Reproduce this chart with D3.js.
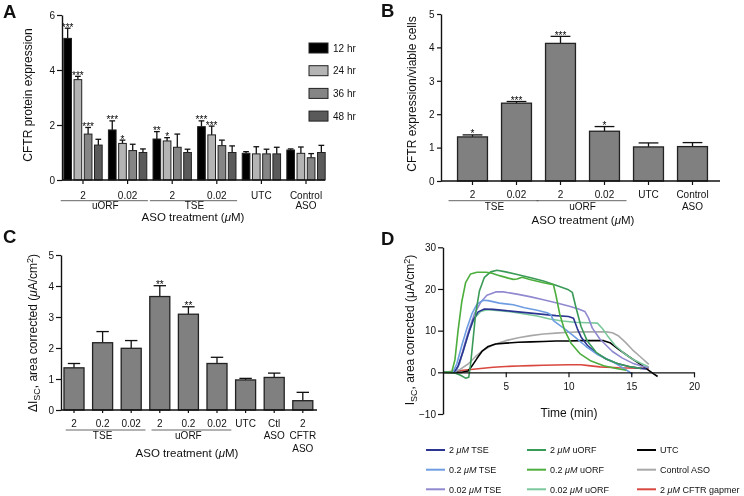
<!DOCTYPE html>
<html><head><meta charset="utf-8">
<script src="https://cdn.jsdelivr.net/npm/d3@7"></script>
<style>
body{margin:0;background:#fff}
svg{font-family:"Liberation Sans",Arial,Helvetica,sans-serif;will-change:transform}
</style></head><body>
<svg id="fig" width="744" height="496"></svg>
<script>
// ---------------- Panel A data ----------------
const categoriesA = ["uORF 2","uORF 0.02","TSE 2","TSE 0.02","UTC","Control ASO"];
const tickLabelsA = ["2","0.02","2","0.02","UTC","Control"];
const subLabelsA = ["","","","","","ASO"];
const bracketsA = [{name:"uORF", from:0, to:1},{name:"TSE", from:2, to:3}];
const timepointsA = ["12 hr","24 hr","36 hr","48 hr"];
const colorsA = ["#000000","#b4b4b4","#858585","#5a5a5a"];
const valuesA = [[5.15,3.65,1.67,1.27],[1.82,1.33,1.07,1.0],[1.49,1.42,1.19,1.0],[1.94,1.64,1.25,1.0],[0.97,0.95,0.95,0.95],[1.09,0.97,0.81,1.0]];
const errorsA = [[0.37,0.12,0.24,0.21],[0.33,0.12,0.23,0.13],[0.27,0.12,0.48,0.12],[0.21,0.32,0.2,0.24],[0.06,0.26,0.17,0.24],[0.04,0.23,0.15,0.26]];
const starsA = [["***","***","***",""],["***","*","",""],["**","*","",""],["***","***","",""],["","","",""],["","","",""]];
const yTicksA = [0,2,4,6];

// ---------------- Panel B data ----------------
const categoriesB = ["TSE 2","TSE 0.02","uORF 2","uORF 0.02","UTC","Control ASO"];
const tickLabelsB = ["2","0.02","2","0.02","UTC","Control"];
const subLabelsB = ["","","","","","ASO"];
const bracketsB = [{name:"TSE", from:0, to:1},{name:"uORF", from:2, to:3}];
const valuesB = [1.32,2.33,4.12,1.49,1.02,1.03];
const errorsB = [0.06,0.05,0.21,0.14,0.12,0.12];
const starsB = ["*","***","***","*","",""];
const yTicksB = [0,1,2,3,4,5];

// ---------------- Panel C data ----------------
const categoriesC = ["TSE 2","TSE 0.2","TSE 0.02","uORF 2","uORF 0.2","uORF 0.02","UTC","Ctl ASO","2 CFTR ASO"];
const tickLabelsC = ["2","0.2","0.02","2","0.2","0.02","UTC","Ctl","2"];
const subLabelsC = ["","","","","","","","ASO","CFTR"];
const subLabelsC2 = ["","","","","","","","","ASO"];
const bracketsC = [{name:"TSE", from:0, to:2},{name:"uORF", from:3, to:5}];
const valuesC = [1.36,2.17,1.99,3.66,3.09,1.5,0.97,1.05,0.3];
const errorsC = [0.14,0.36,0.25,0.35,0.24,0.2,0.05,0.14,0.27];
const starsC = ["","","","**","**","","","",""];
const yTicksC = [0,1,2,3,4,5];

// ---------------- Panel D data ----------------
const labelsD = ["2 μM TSE","0.2 μM TSE","0.02 μM TSE","2 μM uORF","0.2 μM uORF","0.02 μM uORF","UTC","Control ASO","2 μM CFTR gapmer"];
const colorsD = ["#2b3591","#6e9de2","#9089d0","#3a9a58","#4cae3c","#7ac89c","#000000","#a8a8a8","#d9473e"];
const tse2 = [[0,0],[0.9,0.1],[1.2,1.5],[1.6,5],[2.0,9],[2.4,12.5],[2.8,14.5],[3.3,15.2],[4,15.1],[5,14.8],[6,14.5],[7,14.2],[8,13.9],[9,13.6],[10,13.4],[10.4,13],[10.7,10.5],[11,8.5],[11.5,6.5],[12.2,4.6],[13,3.2],[13.8,2.2],[14.8,1.4],[15.6,1.0],[16.2,0.8]];
const tse02 = [[0,0],[0.8,0.1],[1.1,2],[1.5,6.5],[1.9,10.5],[2.3,14],[2.7,16.3],[3.2,17.3],[3.6,17.2],[4.5,16.6],[5.6,16.2],[6.5,15.5],[7.5,14.9],[8.3,14.3],[8.6,13.8],[8.8,12.4],[9.2,11.5],[9.8,10.2],[10.5,8.5],[11.4,6.2],[12.3,4.3],[13.5,2.6],[14.2,1.3],[14.8,0.2],[15.1,-0.5]];
const tse002 = [[0,0],[1.0,0.1],[1.3,2],[1.7,6.5],[2.1,10.5],[2.5,14],[3.0,16.8],[3.5,18.5],[4.2,19.3],[4.8,19.3],[6,18.7],[7,18.1],[8,17.4],[9,16.7],[10,15.9],[10.8,15.2],[11.3,14.6],[11.6,13],[11.9,10.6],[12.5,8],[13.5,5],[14.3,3.4],[15.1,2.2],[15.8,1.5],[16.4,1.1]];
const uorf2 = [[0,0],[1,-0.2],[1.4,-0.7],[1.8,-1.4],[2.05,-1.2],[2.2,2],[2.4,8],[2.6,14],[2.9,19.5],[3.3,22.8],[3.8,24.1],[4.3,24.5],[5,24.1],[6,23.4],[7,22.7],[8,21.9],[9,20.9],[10,19.8],[10.3,19.2],[10.6,15.5],[11,11],[11.5,7.5],[12.2,4.8],[13,3.2],[14,2],[15,1.3],[15.8,0.9]];
const uorf02 = [[0,0],[0.7,0.1],[0.95,3],[1.2,10],[1.5,17],[1.8,21.5],[2.2,23.6],[2.7,24],[3.4,24],[3.9,23.8],[4.5,23.2],[5.2,22.6],[5.6,22.3],[5.9,22.4],[6.3,22.8],[7,22.2],[8,21.5],[8.8,21],[9.0,18.5],[9.3,14],[9.7,10],[10.2,7],[10.9,4.5],[11.8,2.7],[12.8,1.6],[13.8,0.9],[14.6,0.5]];
const uorf002 = [[0,0],[1.0,0.1],[1.3,2],[1.7,6],[2.1,10],[2.5,13],[3.0,14.6],[3.5,15],[4.5,14.8],[5.5,14.5],[6.5,14],[7.5,13.5],[8.5,12.8],[9.5,12.3],[10.5,12],[11.5,11.9],[12.3,11.8],[12.7,10.5],[13.1,8.8],[13.7,6.5],[14.5,4.4],[15.2,3],[15.8,2.1],[16.4,1.3]];
const utc = [[0,0],[1.5,0],[2,0.3],[2.3,1.5],[2.7,3.3],[3.1,5],[3.6,6.2],[4.2,6.8],[5,7.0],[6,7.2],[7,7.3],[8,7.4],[9,7.5],[10,7.5],[11,7.6],[12,7.6],[12.8,7.6],[13.3,7.1],[14,5.5],[14.8,3.8],[15.5,2.4],[16.2,0.9],[16.7,-0.2],[17.1,-1]];
const controlAso = [[0,0],[0.8,0.1],[1.3,0.6],[2,2],[2.6,3.8],[3.2,5.3],[4,6.6],[5,7.6],[6,8.3],[7,8.8],[8,9.2],[9,9.4],[10,9.6],[11,9.7],[12,9.7],[13,9.7],[13.5,9.5],[14,8.7],[14.5,7.3],[15.1,5.4],[15.7,3.8],[16.4,1.9]];
const gapmer = [[0,0],[1,0.3],[2,0.6],[3,0.9],[4,1.2],[5,1.4],[6,1.5],[7,1.6],[8,1.7],[9,1.75],[10,1.8],[11,1.8],[11.6,1.6],[12.5,1.3],[14,1.1],[15.5,1.0],[16.4,0.9]];
const tracesD = [tse2,tse02,tse002,uorf2,uorf02,uorf002,utc,controlAso,gapmer];
const drawOrderD = [8,7,6,5,2,0,1,3,4];
const xTicksD = [5,10,15,20];
const yTicksD = [-10,0,10,20,30];

// ---------------- helpers ----------------
const svg = d3.select("#fig");
const INK = "#111";
const intFmt = d3.format("d");

function styleAxis(g){
  g.selectAll(".domain").attr("stroke",INK).attr("stroke-width",1.4);
  g.selectAll(".tick line").attr("stroke",INK).attr("stroke-width",1.2);
  g.selectAll(".tick text").attr("fill",INK).attr("font-size",10).attr("font-family","Liberation Sans, Arial, sans-serif");
}
function yAxis(x, scale, ticks, size, pad){
  const g = svg.append("g").attr("transform",`translate(${x},0)`)
    .call(d3.axisLeft(scale).tickValues(ticks).tickFormat(intFmt).tickSize(size).tickPadding(pad).tickSizeOuter(0));
  styleAxis(g); return g;
}
function xCatAxis(y, scale, labels, size, pad, x0, x1){
  const g = svg.append("g").attr("transform",`translate(0,${y})`)
    .call(d3.axisBottom(scale).tickSize(size).tickPadding(pad).tickFormat((d,i)=>labels[i]));
  g.select(".domain").remove();
  styleAxis(g);
  svg.append("line").attr("x1",x0).attr("x2",x1).attr("y1",y).attr("y2",y).attr("stroke",INK).attr("stroke-width",1.4);
  return g;
}
function label(x,y,txt,size,anchor,weight){
  return svg.append("text").attr("x",x).attr("y",y).attr("font-size",size).attr("text-anchor",anchor||"middle")
    .attr("font-weight",weight||"normal").attr("fill",INK).text(txt);
}
function axisTitle(x,y){
  const t = svg.append("text").attr("x",x).attr("y",y).attr("font-size",11.5).attr("text-anchor","middle").attr("fill",INK);
  t.append("tspan").text("ASO treatment (");
  t.append("tspan").attr("font-style","italic").text("μ");
  t.append("tspan").text("M)");
}
function rotTitle(x,y,txt){
  svg.append("text").attr("transform",`translate(${x},${y}) rotate(-90)`).attr("font-size",12)
    .attr("text-anchor","middle").attr("fill",INK).text(txt);
}
function errBar(cx, y0, y1, cap){
  svg.append("line").attr("x1",cx).attr("x2",cx).attr("y1",y0).attr("y2",y1).attr("stroke",INK).attr("stroke-width",1.3);
  svg.append("line").attr("x1",cx-cap/2).attr("x2",cx+cap/2).attr("y1",y1).attr("y2",y1).attr("stroke",INK).attr("stroke-width",1.3);
}
function star(cx, y, txt){
  svg.append("text").attr("x",cx).attr("y",y).attr("font-size",10).attr("text-anchor","middle")
    .attr("fill","#000").attr("opacity",0.99).text(txt);
}
function brackets(scale, cats, list, yLine, yText, startOff, endOff){
  const step = scale.step();
  list.forEach(b=>{
    const c0 = scale(cats[b.from]) + scale.bandwidth()/2, c1 = scale(cats[b.to]) + scale.bandwidth()/2;
    svg.append("line").attr("x1",c0-step/2+startOff).attr("x2",c1+step/2+endOff).attr("y1",yLine).attr("y2",yLine)
      .attr("stroke","#555").attr("stroke-width",0.9);
    label((c0+c1)/2, yText, b.name, 10);
  });
}

// ================= Panel A =================
label(3,18.3,"A",18.5,"start","bold");
const yA = d3.scaleLinear().domain([0,6]).range([180,15]);
const xA = d3.scaleBand().domain(categoriesA).range([60.7,328.3]).paddingInner(0.14).paddingOuter(0.07);
const xA2 = d3.scaleBand().domain(timepointsA).range([0,xA.bandwidth()]).paddingInner(0.25);
categoriesA.forEach((c,i)=>{
  timepointsA.forEach((t,j)=>{
    const v = valuesA[i][j], e = errorsA[i][j];
    const bx = xA(c)+xA2(t), bw = xA2.bandwidth(), cx = bx+bw/2;
    errBar(cx, yA(v), yA(v+e), bw*0.75);
    svg.append("rect").attr("x",bx).attr("y",yA(v)).attr("width",bw).attr("height",yA(0)-yA(v))
      .attr("fill",colorsA[j]).attr("stroke","#222").attr("stroke-width",1);
    if(starsA[i][j]) star(cx, yA(v+e)+2.5, starsA[i][j]);
  });
});
yAxis(62, yA, yTicksA, 5, 2);
xCatAxis(180, xA, tickLabelsA, 4, 7.4, 62, 325);
subLabelsA.forEach((s,i)=>{ if(s) label(xA(categoriesA[i])+xA.bandwidth()/2, 209, s, 10); });
brackets(xA, categoriesA, bracketsA, 200.7, 209, 0, -2);
axisTitle(193, 221);
rotTitle(32, 95, "CFTR protein expression");
// legend A
timepointsA.forEach((t,j)=>{
  const cy = 48 + j*22.7;
  svg.append("rect").attr("x",309).attr("y",cy-5).attr("width",19).attr("height",10).attr("fill",colorsA[j]).attr("stroke","#222").attr("stroke-width",1);
  label(333, cy+3.5, t, 10, "start");
});

// ================= Panel B =================
label(381,16.7,"B",18.5,"start","bold");
const yB = d3.scaleLinear().domain([0,5]).range([181,14]);
const xB = d3.scaleBand().domain(categoriesB).range([450.5,714.5]).paddingInner(0.32).paddingOuter(0.16);
categoriesB.forEach((c,i)=>{
  const v = valuesB[i], e = errorsB[i], bx = xB(c), bw = xB.bandwidth(), cx = bx+bw/2;
  errBar(cx, yB(v), yB(v+e), bw*0.66);
  svg.append("rect").attr("x",bx).attr("y",yB(v)).attr("width",bw).attr("height",yB(0)-yB(v))
    .attr("fill","#808080").attr("stroke","#222").attr("stroke-width",1.3);
  if(starsB[i]) star(cx, yB(v+e)+2.5, starsB[i]);
});
yAxis(441, yB, yTicksB, 4, 2.5);
xCatAxis(181, xB, tickLabelsB, 4, 6.2, 441, 720);
subLabelsB.forEach((s,i)=>{ if(s) label(xB(categoriesB[i])+xB.bandwidth()/2, 210, s, 10); });
brackets(xB, categoriesB, bracketsB, 200.7, 210, -2, 0);
axisTitle(583, 224);
rotTitle(416, 94, "CFTR expression/viable cells");

// ================= Panel C =================
label(3,243,"C",18.5,"start","bold");
const yC = d3.scaleLinear().domain([0,5]).range([410,255]);
const xC = d3.scaleBand().domain(categoriesC).range([59.7,317.1]).paddingInner(0.3).paddingOuter(0.15);
categoriesC.forEach((c,i)=>{
  const v = valuesC[i], e = errorsC[i], bx = xC(c), bw = xC.bandwidth(), cx = bx+bw/2;
  errBar(cx, yC(v), yC(v+e), bw*0.62);
  svg.append("rect").attr("x",bx).attr("y",yC(v)).attr("width",bw).attr("height",yC(0)-yC(v))
    .attr("fill","#808080").attr("stroke","#222").attr("stroke-width",1.3);
  if(starsC[i]) star(cx, yC(v+e)+2.5, starsC[i]);
});
yAxis(61, yC, yTicksC, 5, 2);
xCatAxis(410, xC, tickLabelsC, 3, 6.6, 61, 317);
subLabelsC.forEach((s,i)=>{ if(s) label(xC(categoriesC[i])+xC.bandwidth()/2, 439.3, s, 10); });
subLabelsC2.forEach((s,i)=>{ if(s) label(xC(categoriesC[i])+xC.bandwidth()/2, 451.5, s, 10); });
brackets(xC, categoriesC, bracketsC, 430, 439.3, 6, 0);
axisTitle(187, 456.5);
{
  const t = svg.append("text").attr("transform","translate(37,333) rotate(-90)").attr("font-size",12)
    .attr("text-anchor","middle").attr("fill",INK);
  t.append("tspan").text("ΔI");
  t.append("tspan").attr("font-size",9).attr("dy",3).text("SC");
  t.append("tspan").attr("dy",-3).text(", area corrected (");
  t.append("tspan").attr("font-style","italic").text("μ");
  t.append("tspan").text("A/cm");
  t.append("tspan").attr("font-size",9).attr("dy",-4).text("2");
  t.append("tspan").attr("dy",4).text(")");
}

// ================= Panel D =================
label(381,245,"D",18.5,"start","bold");
const xD = d3.scaleLinear().domain([0,20]).range([443,694]);
const yD = d3.scaleLinear().domain([-10,30]).range([414,247.3]);
const lineD = d3.line().x(d=>xD(d[0])).y(d=>yD(d[1]));
drawOrderD.forEach(k=>{
  svg.append("path").datum(tracesD[k]).attr("d",lineD).attr("fill","none")
    .attr("stroke",colorsD[k]).attr("stroke-width",1.6).attr("stroke-linejoin","round");
});
yAxis(443, yD, yTicksD, 5, 2);
{
  const g = svg.append("g").attr("transform",`translate(0,${yD(0)})`)
    .call(d3.axisBottom(xD).tickValues(xTicksD).tickFormat(intFmt).tickSize(5).tickPadding(5.6).tickSizeOuter(0));
  styleAxis(g);
}
label(569, 416.5, "Time (min)", 12);
{
  const t = svg.append("text").attr("transform","translate(414,330) rotate(-90)").attr("font-size",12)
    .attr("text-anchor","middle").attr("fill",INK);
  t.append("tspan").text("I");
  t.append("tspan").attr("font-size",9).attr("dy",3).text("SC");
  t.append("tspan").attr("dy",-3).text(", area corrected (μA/cm");
  t.append("tspan").attr("font-size",9).attr("dy",-4).text("2");
  t.append("tspan").attr("dy",4).text(")");
}
// legend D
const legColX = [426,527,637];
const legRowY = [450,469.7,489.3];
labelsD.forEach((name,i)=>{
  const cx = legColX[Math.floor(i/3)], cy = legRowY[i%3];
  svg.append("line").attr("x1",cx).attr("x2",cx+19).attr("y1",cy).attr("y2",cy).attr("stroke",colorsD[i]).attr("stroke-width",2);
  const t = svg.append("text").attr("x",cx+23).attr("y",cy+3.3).attr("font-size",9).attr("fill",INK);
  const parts = name.split("μM");
  parts.forEach((p,k)=>{
    if(k>0) t.append("tspan").attr("font-style","italic").text("μM");
    if(p) t.append("tspan").text(p);
  });
});
</script>
</body></html>
